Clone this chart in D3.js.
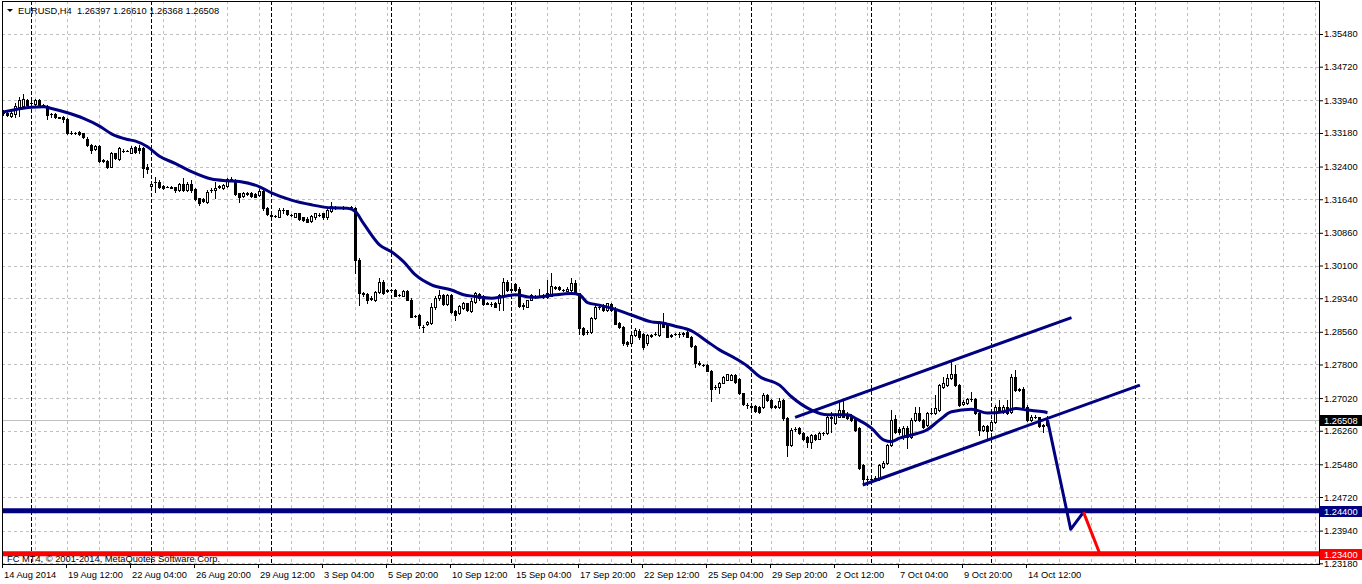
<!DOCTYPE html>
<html><head><meta charset="utf-8">
<script src="https://cdn.jsdelivr.net/npm/d3@7"></script>
<style>
html,body{margin:0;padding:0;background:#fff;}
svg{display:block;}
text{font-family:"Liberation Sans",Arial,sans-serif;font-size:9.3px;fill:#000;}
</style></head><body>
<svg id="c" width="1362" height="584"></svg>
<script>
// ---------- DATA ----------
const symbol = "EURUSD,H4";
const lastBar = {open:1.26397, high:1.26610, low:1.26368, close:1.26508};
const copyright = "FC MT4, \u00a9 2001-2014, MetaQuotes Software Corp.";

const opens = [
1.3368,1.3364,1.3357,1.3361,1.3379,1.3381,1.3395,1.3387,1.3385,1.3395,
1.3383,1.3381,1.3361,1.3361,1.3354,1.3356,1.3350,1.3319,1.3317,1.3321,
1.3317,1.3303,1.3290,1.3280,1.3288,1.3255,1.3254,1.3240,1.3271,1.3258,
1.3277,1.3276,1.3272,1.3286,1.3282,1.3282,1.3238,1.3195,1.3205,1.3205,
1.3195,1.3193,1.3192,1.3192,1.3185,1.3199,1.3185,1.3199,1.3187,1.3166,
1.3164,1.3158,1.3185,1.3185,1.3193,1.3189,1.3195,1.3210,1.3209,1.3178,
1.3171,1.3178,1.3178,1.3176,1.3174,1.3184,1.3143,1.3126,1.3125,1.3123,
1.3139,1.3139,1.3127,1.3123,1.3131,1.3122,1.3119,1.3114,1.3122,1.3128,
1.3131,1.3122,1.3137,1.3145,1.3146,1.3145,1.3146,1.3145,1.3143,1.3023,
1.2945,1.2943,1.2934,1.2930,1.2949,1.2972,1.2951,1.2953,1.2953,1.2941,
1.2939,1.2951,1.2931,1.2892,1.2895,1.2868,1.2874,1.2877,1.2913,1.2934,
1.2941,1.2921,1.2941,1.2905,1.2899,1.2912,1.2922,1.2905,1.2926,1.2944,
1.2939,1.2922,1.2921,1.2923,1.2923,1.2938,1.2972,1.2955,1.2967,1.2956,
1.2918,1.2914,1.2931,1.2938,1.2939,1.2936,1.2945,1.2939,1.2959,1.2961,
1.2953,1.2951,1.2953,1.2969,1.2945,1.2864,1.2856,1.2856,1.2887,1.2914,
1.2918,1.2906,1.2920,1.2910,1.2877,1.2868,1.2833,1.2829,1.2848,1.2858,
1.2850,1.2829,1.2848,1.2852,1.2848,1.2879,1.2875,1.2848,1.2851,1.2850,
1.2850,1.2856,1.2845,1.2823,1.2783,1.2779,1.2779,1.2766,1.2728,1.2727,
1.2738,1.2745,1.2745,1.2755,1.2746,1.2713,1.2686,1.2683,1.2683,1.2682,
1.2682,1.2709,1.2697,1.2683,1.2682,1.2697,1.2655,1.2593,1.2630,1.2632,
1.2620,1.2612,1.2601,1.2616,1.2608,1.2620,1.2620,1.2659,1.2643,1.2659,
1.2674,1.2666,1.2663,1.2655,1.2632,1.2546,1.2515,1.2514,1.2515,1.2515,
1.2542,1.2550,1.2593,1.2653,1.2629,1.2612,1.2632,1.2612,1.2651,1.2667,
1.2651,1.2639,1.2667,1.2667,1.2674,1.2728,1.2732,1.2748,1.2759,1.2732,
1.2688,1.2690,1.2699,1.2699,1.2668,1.2628,1.2637,1.2628,1.2647,1.2682,
1.2670,1.2682,1.2670,1.2752,1.2722,1.2722,1.2682,1.2651,1.2657,1.2657,
1.2639,1.26397];

const highs = [
1.3371,1.3366,1.3368,1.3387,1.3401,1.3409,1.3398,1.3393,1.3396,1.3396,
1.3385,1.3382,1.3365,1.3364,1.3356,1.3358,1.3352,1.3322,1.3320,1.3322,
1.3319,1.3308,1.3292,1.3290,1.3290,1.3257,1.3255,1.3273,1.3272,1.3286,
1.3280,1.3278,1.3288,1.3288,1.3290,1.3286,1.3247,1.3201,1.3216,1.3209,
1.3197,1.3195,1.3195,1.3193,1.3201,1.3213,1.3205,1.3209,1.3189,1.3168,
1.3166,1.3185,1.3189,1.3205,1.3197,1.3199,1.3213,1.3216,1.3212,1.3179,
1.3181,1.3180,1.3180,1.3178,1.3187,1.3187,1.3145,1.3130,1.3127,1.3143,
1.3143,1.3140,1.3130,1.3133,1.3133,1.3123,1.3122,1.3127,1.3133,1.3131,
1.3133,1.3141,1.3158,1.3148,1.3147,1.3148,1.3147,1.3148,1.3147,1.3027,
1.2949,1.2945,1.2938,1.2951,1.2980,1.2976,1.2955,1.2956,1.2956,1.2944,
1.2953,1.2953,1.2934,1.2895,1.2897,1.2872,1.2882,1.2923,1.2938,1.2953,
1.2944,1.2944,1.2944,1.2906,1.2918,1.2926,1.2923,1.2934,1.2949,1.2947,
1.2941,1.2925,1.2925,1.2926,1.2944,1.2980,1.2976,1.2959,1.2969,1.2959,
1.2922,1.2931,1.2944,1.2941,1.2956,1.2944,1.2976,1.2992,1.2962,1.2962,
1.2956,1.2959,1.2980,1.2976,1.2947,1.2868,1.2860,1.2891,1.2922,1.2918,
1.2921,1.2923,1.2922,1.2914,1.2879,1.2869,1.2835,1.2851,1.2864,1.2862,
1.2853,1.2851,1.2852,1.2856,1.2882,1.2899,1.2877,1.2852,1.2854,1.2855,
1.2856,1.2862,1.2846,1.2825,1.2787,1.2781,1.2781,1.2767,1.2732,1.2740,
1.2753,1.2759,1.2758,1.2758,1.2748,1.2714,1.2690,1.2686,1.2686,1.2683,
1.2713,1.2712,1.2699,1.2686,1.2701,1.2699,1.2658,1.2632,1.2634,1.2634,
1.2622,1.2614,1.2618,1.2618,1.2622,1.2624,1.2666,1.2670,1.2667,1.2694,
1.2697,1.2669,1.2666,1.2658,1.2634,1.2548,1.2520,1.2519,1.2522,1.2549,
1.2555,1.2596,1.2674,1.2663,1.2634,1.2636,1.2636,1.2655,1.2682,1.2682,
1.2653,1.2670,1.2678,1.2709,1.2735,1.2750,1.2759,1.2787,1.2779,1.2734,
1.2697,1.2702,1.2715,1.2702,1.2670,1.2640,1.2640,1.2650,1.2685,1.2697,
1.2685,1.2697,1.2759,1.2767,1.2725,1.2728,1.2685,1.2662,1.2663,1.2659,
1.2641,1.26610];

const lows = [
1.3360,1.3357,1.3354,1.3356,1.3357,1.3379,1.3381,1.3383,1.3383,1.3379,
1.3378,1.3350,1.3356,1.3352,1.3352,1.3344,1.3316,1.3316,1.3315,1.3314,
1.3306,1.3288,1.3272,1.3278,1.3251,1.3251,1.3236,1.3238,1.3257,1.3255,
1.3274,1.3275,1.3271,1.3272,1.3271,1.3216,1.3224,1.3193,1.3181,1.3189,
1.3187,1.3192,1.3189,1.3181,1.3184,1.3184,1.3184,1.3181,1.3163,1.3150,
1.3158,1.3156,1.3181,1.3166,1.3189,1.3187,1.3193,1.3207,1.3174,1.3158,
1.3170,1.3175,1.3170,1.3169,1.3171,1.3139,1.3127,1.3122,1.3123,1.3122,
1.3131,1.3127,1.3126,1.3122,1.3116,1.3114,1.3110,1.3112,1.3119,1.3125,
1.3119,1.3119,1.3135,1.3141,1.3143,1.3142,1.3143,1.3142,1.2992,1.2918,
1.2939,1.2922,1.2930,1.2928,1.2947,1.2944,1.2948,1.2949,1.2938,1.2938,
1.2938,1.2930,1.2890,1.2890,1.2864,1.2856,1.2872,1.2874,1.2910,1.2931,
1.2918,1.2918,1.2900,1.2883,1.2897,1.2910,1.2905,1.2903,1.2923,1.2931,
1.2918,1.2920,1.2916,1.2913,1.2906,1.2906,1.2951,1.2951,1.2951,1.2914,
1.2908,1.2913,1.2930,1.2934,1.2936,1.2934,1.2934,1.2938,1.2956,1.2953,
1.2951,1.2950,1.2951,1.2944,1.2852,1.2848,1.2852,1.2854,1.2885,1.2910,
1.2905,1.2905,1.2905,1.2874,1.2864,1.2825,1.2824,1.2828,1.2846,1.2840,
1.2817,1.2825,1.2844,1.2848,1.2846,1.2866,1.2843,1.2844,1.2848,1.2845,
1.2846,1.2843,1.2821,1.2775,1.2779,1.2776,1.2764,1.2696,1.2724,1.2713,
1.2736,1.2744,1.2744,1.2738,1.2712,1.2686,1.2678,1.2680,1.2670,1.2668,
1.2680,1.2695,1.2680,1.2680,1.2680,1.2652,1.2568,1.2591,1.2626,1.2618,
1.2605,1.2589,1.2585,1.2605,1.2606,1.2617,1.2618,1.2624,1.2641,1.2657,
1.2657,1.2653,1.2648,1.2626,1.2536,1.2505,1.2501,1.2505,1.2510,1.2512,
1.2540,1.2548,1.2591,1.2620,1.2618,1.2608,1.2585,1.2610,1.2649,1.2649,
1.2633,1.2636,1.2664,1.2665,1.2672,1.2726,1.2730,1.2746,1.2730,1.2684,
1.2686,1.2688,1.2696,1.2666,1.2616,1.2626,1.2608,1.2626,1.2645,1.2672,
1.2668,1.2665,1.2668,1.2719,1.2718,1.2680,1.2649,1.2649,1.2655,1.2635,
1.2622,1.26368];

const closes = [
1.3364,1.3360,1.3364,1.3381,1.3395,1.3396,1.3383,1.3388,1.3395,1.3381,
1.3379,1.3360,1.3362,1.3354,1.3353,1.3350,1.3317,1.3318,1.3318,1.3316,
1.3309,1.3289,1.3278,1.3288,1.3253,1.3253,1.3238,1.3271,1.3259,1.3282,
1.3276,1.3277,1.3284,1.3274,1.3278,1.3236,1.3234,1.3199,1.3204,1.3193,
1.3189,1.3193,1.3191,1.3185,1.3199,1.3185,1.3199,1.3185,1.3164,1.3156,
1.3161,1.3181,1.3186,1.3189,1.3194,1.3197,1.3210,1.3211,1.3176,1.3170,
1.3179,1.3177,1.3171,1.3170,1.3184,1.3143,1.3129,1.3127,1.3124,1.3139,
1.3138,1.3130,1.3128,1.3131,1.3117,1.3116,1.3112,1.3125,1.3131,1.3127,
1.3122,1.3139,1.3149,1.3146,1.3145,1.3146,1.3145,1.3146,1.3023,1.2945,
1.2943,1.2930,1.2933,1.2949,1.2972,1.2945,1.2952,1.2952,1.2939,1.2942,
1.2951,1.2931,1.2891,1.2893,1.2872,1.2867,1.2879,1.2914,1.2934,1.2941,
1.2921,1.2941,1.2903,1.2895,1.2916,1.2922,1.2906,1.2928,1.2945,1.2934,
1.2921,1.2921,1.2920,1.2914,1.2941,1.2972,1.2953,1.2954,1.2953,1.2916,
1.2917,1.2930,1.2941,1.2937,1.2940,1.2941,1.2936,1.2962,1.2958,1.2955,
1.2954,1.2956,1.2969,1.2945,1.2864,1.2851,1.2855,1.2887,1.2914,1.2913,
1.2906,1.2922,1.2906,1.2875,1.2868,1.2829,1.2828,1.2848,1.2860,1.2844,
1.2821,1.2848,1.2847,1.2851,1.2879,1.2868,1.2844,1.2847,1.2850,1.2851,
1.2853,1.2845,1.2823,1.2784,1.2782,1.2778,1.2766,1.2724,1.2727,1.2738,
1.2750,1.2757,1.2755,1.2740,1.2713,1.2688,1.2685,1.2682,1.2673,1.2670,
1.2709,1.2697,1.2682,1.2682,1.2694,1.2655,1.2593,1.2628,1.2631,1.2620,
1.2608,1.2599,1.2616,1.2608,1.2620,1.2621,1.2659,1.2655,1.2663,1.2674,
1.2659,1.2655,1.2651,1.2628,1.2539,1.2515,1.2514,1.2515,1.2517,1.2546,
1.2552,1.2593,1.2652,1.2624,1.2624,1.2632,1.2612,1.2651,1.2667,1.2651,
1.2635,1.2667,1.2668,1.2678,1.2732,1.2736,1.2748,1.2759,1.2732,1.2686,
1.2693,1.2699,1.2700,1.2668,1.2628,1.2637,1.2626,1.2647,1.2682,1.2674,
1.2682,1.2667,1.2752,1.2721,1.2721,1.2682,1.2651,1.2659,1.2658,1.2637,
1.2638,1.26508];

// moving average: bar index -> value
const maIdx = [0,7,10,12,16,20,24,27,31,33,36,39,43,47,52,56,59,64,67,72,77,82,86,88,90,94,97,100,103,107,112,115,118,122,125,128,132,135,138,142,144,146,149,152,157,162,165,168,172,176,179,183,186,189,194,197,202,206,211,213,217,220,222,224,227,231,234,237,242,246,250,253,256,260,261];
const maVal = [1.3367,1.3378,1.3379,1.3375,1.3365,1.3352,1.3334,1.3316,1.3303,1.3299,1.3286,1.3264,1.3247,1.3228,1.3211,1.3207,1.3205,1.3193,1.3179,1.3162,1.3151,1.3144,1.3143,1.3135,1.3108,1.3058,1.3042,1.3019,1.2988,1.2965,1.2953,1.2942,1.2938,1.2934,1.2938,1.2942,1.2936,1.2938,1.2942,1.2945,1.2942,1.2924,1.2918,1.2911,1.2895,1.2879,1.2876,1.2869,1.2858,1.2833,1.2814,1.2794,1.2776,1.2752,1.2732,1.2705,1.2674,1.2663,1.2663,1.2655,1.2632,1.2605,1.2601,1.2609,1.2616,1.2629,1.2651,1.2670,1.2676,1.2667,1.2670,1.2678,1.2674,1.2670,1.2668];

// drawn objects: [bar index, price]
const channelUpper = [[197.9,1.2657],[267,1.2889]];
const channelLower = [[214.8,1.2500],[284.1,1.2732]];
const forecastBlue = [[261,1.26508],[266.8,1.2397],[270,1.2437]];
const forecastRed = [[270,1.2437],[274,1.2342]];
const levelBlue = 1.24400;
const levelRed = 1.23400;

const priceTicks = [1.35480,1.34720,1.33940,1.33180,1.32400,1.31640,1.30860,1.30100,1.29340,1.28560,1.27800,1.27020,1.26260,1.25480,1.24720,1.23940,1.23180];
const timeLabels = ["14 Aug 2014","19 Aug 12:00","22 Aug 04:00","26 Aug 20:00","29 Aug 12:00","3 Sep 04:00","5 Sep 20:00","10 Sep 12:00","15 Sep 04:00","17 Sep 20:00","22 Sep 12:00","25 Sep 04:00","29 Sep 20:00","2 Oct 12:00","7 Oct 04:00","9 Oct 20:00","14 Oct 12:00"];
const timeLabelStep = 16;   // bars between time labels
const gridStep = 8;         // bars between vertical grid lines
const weekStarts = [7,37,67,97,127,157,187,217,247,283];

// ---------- LAYOUT ----------
const L = 2, T = 1, R = 1319, B = 564;
const svg = d3.select("#c");
const x = d3.scaleLinear().domain([0, 328.875]).range([3.5, 1319]);
const y = d3.scaleLinear().domain([1.23180, 1.35480]).range([563.3, 34]);
const py = v => Math.round(y(v)) + 0.5;

svg.append("defs").append("clipPath").attr("id","plot")
  .append("rect").attr("x",L+1).attr("y",T+1).attr("width",R-L-1).attr("height",B-T-1);
const plot = svg.append("g").attr("clip-path","url(#plot)");

// horizontal grid
plot.append("g").selectAll("line").data(priceTicks).join("line")
  .attr("x1",L).attr("x2",R).attr("y1",d=>py(d)).attr("y2",d=>py(d))
  .attr("stroke","#c0c0c0").attr("stroke-dasharray","3,3");
// vertical grid
const gridIdx = d3.range(gridStep, 330, gridStep);
plot.append("g").selectAll("line").data(gridIdx).join("line")
  .attr("x1",d=>x(d)).attr("x2",d=>x(d)).attr("y1",T).attr("y2",B)
  .attr("stroke","#c0c0c0").attr("stroke-dasharray","3,3");
// period separators
plot.append("g").selectAll("line").data(weekStarts).join("line")
  .attr("x1",d=>x(d)).attr("x2",d=>x(d)).attr("y1",T).attr("y2",B)
  .attr("stroke","#000").attr("stroke-dasharray","4,2");
// bid line
plot.append("line").attr("x1",L).attr("x2",R).attr("y1",py(lastBar.close)).attr("y2",py(lastBar.close))
  .attr("stroke","#c0c0c0");

// candles
const bars = d3.range(closes.length);
const cg = plot.append("g");
cg.selectAll("line").data(bars).join("line")
  .attr("x1",i=>x(i)).attr("x2",i=>x(i))
  .attr("y1",i=>Math.round(y(highs[i]))).attr("y2",i=>Math.round(y(lows[i]))+1)
  .attr("stroke","#000");
cg.selectAll("rect").data(bars).join("rect")
  .each(function(i){
    const top = Math.round(y(Math.max(opens[i],closes[i])));
    const bot = Math.round(y(Math.min(opens[i],closes[i])));
    const r = d3.select(this);
    if (bot - top < 1) {
      r.attr("x",x(i)-1.5).attr("y",top).attr("width",3).attr("height",1).attr("fill","#000");
    } else if (closes[i] < opens[i]) {
      r.attr("x",x(i)-1.5).attr("y",top).attr("width",3).attr("height",bot-top+1).attr("fill","#000");
    } else {
      r.attr("x",x(i)-1).attr("y",top+0.5).attr("width",2).attr("height",bot-top)
       .attr("fill","#fff").attr("stroke","#000");
    }
  });

// moving average
plot.append("path")
  .attr("d", d3.line().x(i=>x(maIdx[i])).y(i=>y(maVal[i])).curve(d3.curveMonotoneX)(d3.range(maIdx.length)))
  .attr("fill","none").attr("stroke","#000080").attr("stroke-width",3);

// horizontal levels
[[levelBlue,"#000080"],[levelRed,"#ff0000"]].forEach(([v,c])=>{
  plot.append("line").attr("x1",L).attr("x2",R).attr("y1",y(v)).attr("y2",y(v))
    .attr("stroke",c).attr("stroke-width",5);
});

// trend lines and forecast
const seg = d3.line().x(d=>x(d[0])).y(d=>y(d[1]));
[[channelUpper,"#000080"],[channelLower,"#000080"],[forecastBlue,"#000080"],[forecastRed,"#ff0000"]].forEach(([pts,c])=>{
  plot.append("path").attr("d",seg(pts)).attr("fill","none").attr("stroke",c)
    .attr("stroke-width",3).attr("stroke-linejoin","round");
});

// frame
svg.append("rect").attr("x",L+0.5).attr("y",T+0.5).attr("width",R-L).attr("height",B-T)
  .attr("fill","none").attr("stroke","#000");

// price axis
const yAxis = d3.axisRight(y).tickValues(priceTicks).tickSize(4).tickPadding(1).tickFormat(d3.format(".5f"));
svg.append("g").attr("transform",`translate(${R},0)`).call(yAxis)
  .call(g=>g.select(".domain").remove())
  .call(g=>g.selectAll(".tick line").attr("stroke","#000"));

// price boxes
const fmt = d3.format(".5f");
[[lastBar.close,"#000"],[levelBlue,"#000080"],[levelRed,"#ff0000"]].forEach(([v,c])=>{
  const yy = Math.round(y(v));
  svg.append("rect").attr("x",R+1).attr("y",yy-5).attr("width",1362-R-1).attr("height",11).attr("fill",c);
  svg.append("text").attr("x",R+5).attr("y",yy+3.5).style("fill","#fff").text(fmt(v));
});

// time axis
const xAxis = d3.axisBottom(x).tickValues(timeLabels.map((_,k)=>k*timeLabelStep))
  .tickSize(4).tickFormat((d,k)=>timeLabels[k]);
svg.append("g").attr("transform",`translate(0,${B})`).call(xAxis)
  .call(g=>g.select(".domain").remove())
  .call(g=>g.selectAll(".tick line").attr("stroke","#000").attr("transform","translate(-1.5,0)"))
  .call(g=>g.selectAll(".tick text").attr("text-anchor","start").attr("x",0).attr("y",7));

// title
svg.append("path").attr("d","M7,9L13,9L10,12Z").attr("fill","#000");
svg.append("text").attr("x",18).attr("y",14).style("white-space","pre")
  .text(`${symbol}  ${fmt(lastBar.open)} ${fmt(lastBar.high)} ${fmt(lastBar.low)} ${fmt(lastBar.close)}`);

// copyright
svg.append("text").attr("x",7).attr("y",561.5).text(copyright);
</script>
</body></html>
